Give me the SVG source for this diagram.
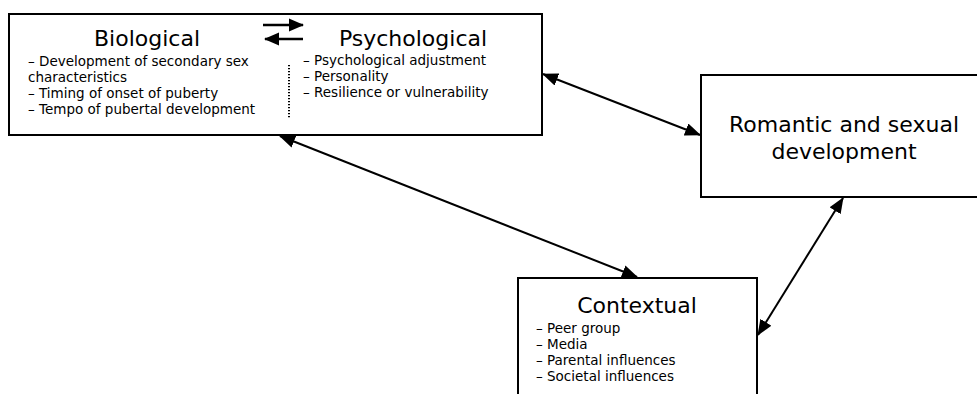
<svg xmlns="http://www.w3.org/2000/svg" width="977" height="394" viewBox="0 0 977 394">
<style>
.box{fill:#fff;stroke:#000;stroke-width:2}
.title{font-family:"DejaVu Sans",sans-serif;font-size:22px;fill:#000;text-anchor:middle}
.item{font-family:"DejaVu Sans",sans-serif;font-size:13.5px;fill:#000}
.con{stroke:#000;stroke-width:2;fill:none}
</style>
<defs>
<marker id="ah" markerUnits="userSpaceOnUse" markerWidth="17" markerHeight="13" refX="15" refY="6.5" orient="auto-start-reverse" viewBox="0 0 17 13">
<path d="M0,0 L16,6.5 L0,13 Z" fill="#000"/>
</marker>
<marker id="ahs" markerUnits="userSpaceOnUse" markerWidth="15" markerHeight="14" refX="14" refY="7" orient="auto" viewBox="0 0 15 14">
<path d="M0,0.5 L15,7 L0,13.5 Z" fill="#000"/>
</marker>
</defs>
<rect width="977" height="394" fill="#fff"/>
<g id="biopsych">
<rect class="box" x="9" y="14" width="533" height="121"/>
<text class="title" x="147" y="46">Biological</text>
<text class="item" x="28" y="66">– Development of secondary sex</text>
<text class="item" x="28" y="82">characteristics</text>
<text class="item" x="28" y="98">– Timing of onset of puberty</text>
<text class="item" x="28" y="114">– Tempo of pubertal development</text>
<text class="title" x="413" y="46">Psychological</text>
<text class="item" x="303" y="65">– Psychological adjustment</text>
<text class="item" x="303" y="81">– Personality</text>
<text class="item" x="303" y="97">– Resilience or vulnerability</text>
<line x1="289" y1="65" x2="289" y2="118" stroke="#000" stroke-width="2" stroke-dasharray="1.2,1.8"/>
<line x1="263" y1="25" x2="303" y2="25" stroke="#000" stroke-width="2.5" marker-end="url(#ahs)"/>
<line x1="303" y1="39" x2="265" y2="39" stroke="#000" stroke-width="2.5" marker-end="url(#ahs)"/>
</g>
<g id="romantic">
<rect class="box" x="701" y="75" width="300" height="122"/>
<text class="title" x="844" y="132">Romantic and sexual</text>
<text class="title" x="844" y="159">development</text>
</g>
<g id="contextual">
<rect class="box" x="518" y="278" width="239" height="130"/>
<text class="title" x="637" y="313">Contextual</text>
<text class="item" x="536" y="333">– Peer group</text>
<text class="item" x="536" y="349">– Media</text>
<text class="item" x="536" y="365">– Parental influences</text>
<text class="item" x="536" y="381">– Societal influences</text>
</g>
<g id="connectors">
<line class="con" x1="543" y1="74" x2="700" y2="135" marker-start="url(#ah)" marker-end="url(#ah)"/>
<line class="con" x1="280" y1="136" x2="637" y2="277" marker-start="url(#ah)" marker-end="url(#ah)"/>
<line class="con" x1="843" y1="198" x2="758" y2="335" marker-start="url(#ah)" marker-end="url(#ah)"/>
</g>
</svg>
